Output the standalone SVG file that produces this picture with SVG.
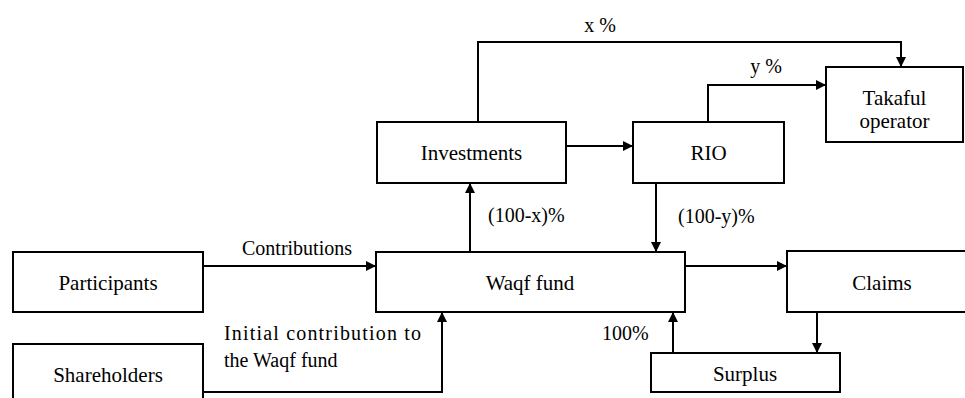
<svg xmlns="http://www.w3.org/2000/svg" width="965" height="398" viewBox="0 0 965 398">
<defs>
<marker id="ah" viewBox="0 0 10 10" refX="10" refY="5" markerWidth="10" markerHeight="10" markerUnits="userSpaceOnUse" orient="auto">
<path d="M0,0 L10,5 L0,10 z" fill="#000"/>
</marker>
<style>
.box{fill:#fff;stroke:#000;stroke-width:2}
text{font-family:'Liberation Serif','DejaVu Serif','Times New Roman',serif;fill:#000}
.t{font-size:21px;text-anchor:middle}
.l{font-size:20px}
.c{fill:none;stroke:#000;stroke-width:2;marker-end:url(#ah)}
</style>
</defs>
<rect width="965" height="398" fill="#fff"/>
<g id="connectors">
<path class="c" d="M478,122 V42 H901 V67"/>
<path class="c" d="M708,122 V85 H826"/>
<path class="c" d="M566,146 H633"/>
<path class="c" d="M470,252 V183"/>
<path class="c" d="M656,183 V252"/>
<path class="c" d="M203,266 H376"/>
<path class="c" d="M203,392 H442 V312"/>
<path class="c" d="M685,266 H787"/>
<path class="c" d="M817,312 V353"/>
<path class="c" d="M673,353 V312"/>
<text class="l" x="600" y="32" text-anchor="middle">x %</text>
<text class="l" x="766" y="73" text-anchor="middle">y %</text>
<text class="l" x="488" y="222">(100-x)%</text>
<text class="l" x="678" y="223">(100-y)%</text>
<text class="l" x="297" y="255" text-anchor="middle">Contributions</text>
<text class="l" x="224" y="340" textLength="197" lengthAdjust="spacing">Initial contribution to</text>
<text class="l" x="224" y="367">the Waqf fund</text>
<text class="l" x="602" y="340">100%</text>
</g>
<g id="investments"><rect class="box" x="377" y="122" width="189" height="61"/><text class="t" x="471.5" y="160">Investments</text></g>
<g id="rio"><rect class="box" x="633" y="122" width="151" height="61"/><text class="t" x="708.5" y="160">RIO</text></g>
<g id="takaful"><rect class="box" x="826" y="67" width="137" height="75"/><text class="t" x="894.5" y="105">Takaful</text><text class="t" x="894.5" y="128">operator</text></g>
<g id="participants"><rect class="box" x="13" y="252" width="190" height="60"/><text class="t" x="108" y="290">Participants</text></g>
<g id="waqf"><rect class="box" x="376" y="252" width="309" height="60"/><text class="t" x="530" y="290">Waqf fund</text></g>
<g id="claims"><rect class="box" x="787" y="251" width="190" height="61"/><text class="t" x="882" y="290">Claims</text></g>
<g id="shareholders"><rect class="box" x="13" y="344" width="190" height="60"/><text class="t" x="108" y="382">Shareholders</text></g>
<g id="surplus"><rect class="box" x="651" y="353" width="189" height="39"/><text class="t" x="745" y="381">Surplus</text></g>
</svg>
